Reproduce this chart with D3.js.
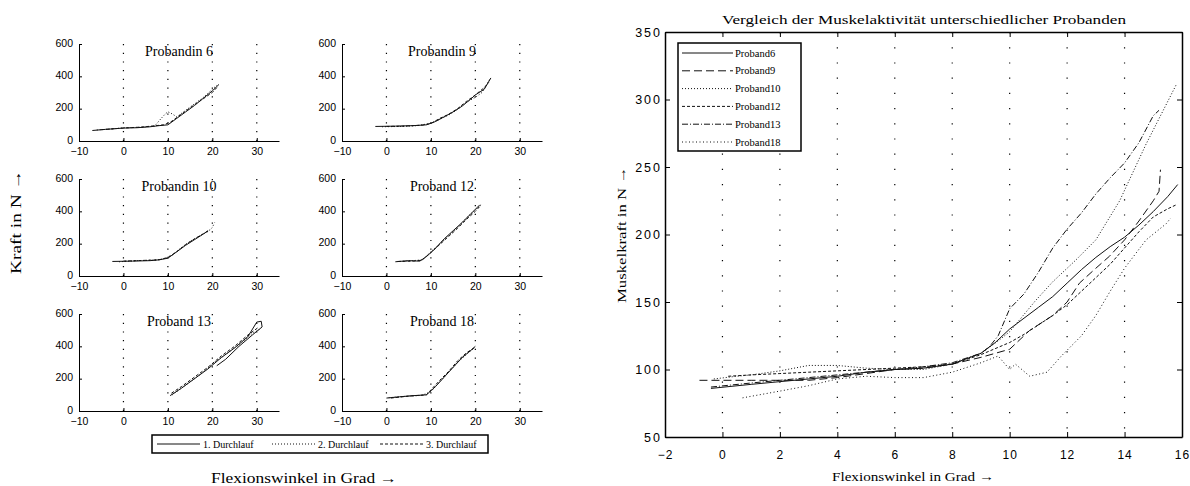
<!DOCTYPE html>
<html>
<head>
<meta charset="utf-8">
<script src="https://cdn.jsdelivr.net/npm/d3@7"></script>
<style>
  body { margin: 0; background: #fff; }
  text { font-family: "Liberation Serif", serif; fill: #000; }
  .tick text { font-family: "Liberation Sans", sans-serif; }
</style>
</head>
<body>
<svg id="chart" width="1190" height="486"></svg>
<script>
// ---- data: small subplots (angle in deg, force in N), 3 runs each
const subTitles = ["Probandin 6", "Probandin 9", "Probandin 10", "Proband 12", "Proband 13", "Proband 18"];
const runLabels = ["1. Durchlauf", "2. Durchlauf", "3. Durchlauf"];
const subXTicks = [-10, 0, 10, 20, 30];
const subYTicks = [0, 200, 400, 600];

const p6Runs = [
  [[-7,65],[-4,72],[0,80],[3,82],[6,88],[8,95],[10,100],[12,140],[14,180],[16,220],[18,265],[20,310],[21.5,350]],
  [[-6,68],[-2,76],[0,82],[4,85],[7,92],[8.5,140],[9.5,170],[10,180],[10.5,175],[12,150],[14,190],[16,230],[18,270],[20,320],[21,345]],
  [[-5,70],[0,80],[4,86],[7,94],[9,100],[10.5,115],[12,145],[14,185],[16,225],[18,262],[20,300],[21,330]]
];
const p9Runs = [
  [[-2.5,90],[2,92],[6,95],[9,100],[11,120],[13,150],[15,180],[17,215],[19,260],[20,285],[22,320],[23.5,390]],
  [[-1,88],[3,90],[7,95],[10,110],[12,135],[14,160],[16,195],[18,240],[20,270],[21.5,300],[23,370],[23.3,385]],
  [[0,90],[4,92],[8,98],[10,108],[12,140],[14,165],[16,200],[18,245],[20,285],[22,330],[23,360]]
];
const p10Runs = [
  [[-2.5,90],[2,92],[6,95],[8,100],[10,110],[12,150],[14,190],[16,225],[18,260],[19,280]],
  [[-1,88],[3,95],[7,98],[9,105],[11,130],[13,175],[15,215],[17,245],[19,275],[20,300],[20.5,330]],
  [[0,92],[4,96],[8,100],[10,115],[12,150],[14,195],[16,230],[18,262],[19.5,285]]
];
const p12Runs = [
  [[2,88],[5,95],[7.5,92],[9,120],[11,170],[13,230],[15,280],[17,330],[19,385],[21,440]],
  [[3,90],[6,95],[8,100],[10,150],[12,200],[14,250],[16,300],[18,360],[20,410],[21.5,445]],
  [[2.5,90],[6,92],[8,98],[10,145],[12,195],[14,245],[16,295],[18,350],[20,400],[21,430]]
];
const p13Runs = [
  [[10.5,95],[13,140],[16,200],[19,260],[22,330],[25,390],[28,460],[30,550],[31,555],[31.2,520],[29,470],[26,400],[23,320],[21,280]],
  [[11,100],[14,160],[17,220],[20,290],[23,350],[26,410],[29,480],[31,510]],
  [[10.8,110],[13,150],[16,210],[19,270],[22,340],[25,400],[28,470],[30.5,520]]
];
const p18Runs = [
  [[0,80],[3,88],[6,95],[9,100],[11,150],[13,210],[15,270],[17,330],[19,375],[20,400]],
  [[0.5,82],[4,90],[8,97],[10,120],[12,180],[14,240],[16,300],[18,350],[19.5,385]],
  [[1,80],[5,92],[9,100],[10,130],[12,190],[14,245],[16,310],[18,360],[20,395]]
];
const subRuns = [p6Runs, p9Runs, p10Runs, p12Runs, p13Runs, p18Runs];

// ---- data: comparison chart
const cmpNames = ["Proband6", "Proband9", "Proband10", "Proband12", "Proband13", "Proband18"];
const proband6 = [[-0.4,86],[1,89],[2,91],[3,93],[4,95],[5,98],[6,100],[7,101],[8,104],[9,112],[9.5,120],[10,130],[10.5,138],[11,146],[11.5,154],[12,164],[12.5,174],[13,183],[13.5,191],[14,198],[14.5,207],[15,217],[15.5,228],[15.85,237]];
const proband9 = [[-0.8,92],[0,92],[1,92],[2,92],[3,92],[4,94],[5,97],[6,100],[7,101],[8,104],[9,109],[10,115],[10.7,129],[11.5,140],[12,150],[12.43,164],[13,175],[13.48,184],[14,196],[14.5,210],[15,225],[15.2,232],[15.25,248]];
const proband10 = [[-0.3,93],[0.5,95],[1,96],[2,99],[3,103],[4,103],[5,101],[6,100],[7,100],[8,104],[9,112],[9.65,122],[10,128],[10.9,151],[11.5,165],[12.3,181],[13,196],[13.83,225],[14.75,267],[15.3,290],[15.8,311]];
const proband12 = [[0.2,95],[1,96],[2,97],[3,98],[4,99],[5,100],[6,101],[7,102],[8,104],[9,111],[10,120],[10.5,126],[11,133],[11.5,140],[12,148],[12.5,158],[13,168],[13.5,178],[14,190],[14.5,202],[15,213],[15.5,219],[15.8,222]];
const proband13 = [[-0.4,87],[1,90],[2,92],[3,94],[4,96],[5,98],[6,100],[7,102],[8,105],[9,112],[9.3,117],[9.6,125],[10,145],[10.5,156],[11,172],[11.5,190],[12,204],[12.5,216],[13,230],[13.5,242],[14,253],[14.5,268],[15,288],[15.2,292]];
const proband18 = [[0.7,79],[2,84],[3,88],[4,93],[5,95],[6,94],[7,94],[8,98],[9,105],[9.6,110],[10,100],[10.2,104],[10.7,95],[11.3,98],[11.8,110],[12.5,125],[13,140],[13.5,158],[14,175],[14.75,196],[15.45,208],[15.6,212]];
const cmpSeries = [proband6, proband9, proband10, proband12, proband13, proband18];
const cmpXTicks = [-2, 0, 2, 4, 6, 8, 10, 12, 14, 16];
const cmpYTicks = [50, 100, 150, 200, 250, 300, 350];

// line styles
const runDash = [null, "1,2", "3,2"];
const cmpDash = [null, "8,4", "1,2", "3,2", "6,2,1,2", "1,2.5"];

const svg = d3.select("#chart");

// ---- small multiples
const subW = 200, subH = 97;
const colLeft = [79, 342];
const rowTop = [44, 179, 314];

subTitles.forEach((title, i) => {
  const left = colLeft[i % 2], top = rowTop[Math.floor(i / 2)];
  const x = d3.scaleLinear().domain([-10, 35]).range([left, left + subW]);
  const y = d3.scaleLinear().domain([0, 600]).range([top + subH, top]);
  const g = svg.append("g");

  // dotted vertical grid
  g.selectAll(".grid").data([0, 10, 20, 30]).enter().append("line")
    .attr("x1", d => x(d)).attr("x2", d => x(d))
    .attr("y1", top).attr("y2", top + subH)
    .attr("stroke", "#000").attr("stroke-width", 1.2)
    .attr("stroke-dasharray", "1.2,7.5");

  g.append("g")
    .attr("transform", `translate(0,${top + subH})`)
    .call(d3.axisBottom(x).tickValues(subXTicks).tickSize(-3).tickSizeOuter(0).tickPadding(7))
    .call(a => a.selectAll("text").attr("font-size", 10.5));
  g.append("g")
    .attr("transform", `translate(${left},0)`)
    .call(d3.axisLeft(y).tickValues(subYTicks).tickSize(-3).tickSizeOuter(0).tickPadding(6))
    .call(a => a.selectAll("text").attr("font-size", 10.5).attr("dy", "0.2em"));

  const line = d3.line().x(d => x(d[0])).y(d => y(d[1]));
  subRuns[i].forEach((run, r) => {
    g.append("path")
      .datum(run)
      .attr("d", line)
      .attr("fill", "none")
      .attr("stroke", "#111")
      .attr("stroke-width", 1)
      .attr("stroke-dasharray", runDash[r]);
  });

  g.append("text")
    .attr("x", left + subW / 2)
    .attr("y", top + 12)
    .attr("text-anchor", "middle")
    .attr("font-size", 14)
    .text(title);
});

// legend for the runs
const legL = svg.append("g");
legL.append("rect")
  .attr("x", 152).attr("y", 435).attr("width", 336).attr("height", 18)
  .attr("fill", "#fff").attr("stroke", "#000").attr("stroke-width", 1.5);
const runLegX = [157, 272, 380];
runLabels.forEach((lab, r) => {
  legL.append("line")
    .attr("x1", runLegX[r]).attr("x2", runLegX[r] + 43)
    .attr("y1", 444).attr("y2", 444)
    .attr("stroke", "#111").attr("stroke-width", 1)
    .attr("stroke-dasharray", runDash[r]);
  legL.append("text")
    .attr("x", runLegX[r] + 46).attr("y", 447.5)
    .attr("font-size", 10)
    .text(lab);
});

svg.append("text")
  .attr("x", 304).attr("y", 483)
  .attr("text-anchor", "middle")
  .attr("font-size", 14)
  .attr("textLength", 186)
  .attr("lengthAdjust", "spacingAndGlyphs")
  .text("Flexionswinkel in Grad \u2192");

svg.append("text")
  .attr("transform", "translate(21,222) rotate(-90)")
  .attr("text-anchor", "middle")
  .attr("font-size", 14)
  .attr("textLength", 104)
  .attr("lengthAdjust", "spacingAndGlyphs")
  .text("Kraft in N \u2192");

// ---- comparison chart
const cL = 665, cR = 1182, cT = 32, cB = 437;
const cx = d3.scaleLinear().domain([-2, 16]).range([cL, cR]);
const cy = d3.scaleLinear().domain([50, 350]).range([cB, cT]);
const cg = svg.append("g");

cg.selectAll(".cgrid").data(cmpXTicks.filter(d => d > -2 && d < 16)).enter().append("line")
  .attr("x1", d => cx(d)).attr("x2", d => cx(d))
  .attr("y1", cT).attr("y2", cB)
  .attr("stroke", "#000").attr("stroke-width", 1.2)
  .attr("stroke-dasharray", "1.2,14");

cg.append("g")
  .attr("transform", `translate(0,${cB})`)
  .call(d3.axisBottom(cx).tickValues(cmpXTicks).tickSize(-5).tickSizeOuter(0).tickPadding(13))
  .call(a => a.selectAll("text").attr("font-size", 12).attr("letter-spacing", 1));
cg.append("g")
  .attr("transform", `translate(0,${cT})`)
  .call(d3.axisTop(cx).tickValues(cmpXTicks).tickSize(-5).tickSizeOuter(0).tickFormat(""));
cg.append("g")
  .attr("transform", `translate(${cL},0)`)
  .call(d3.axisLeft(cy).tickValues(cmpYTicks).tickSize(-5).tickSizeOuter(0).tickPadding(3))
  .call(a => a.selectAll("text").attr("font-size", 12.5).attr("letter-spacing", 2));
cg.append("g")
  .attr("transform", `translate(${cR},0)`)
  .call(d3.axisRight(cy).tickValues(cmpYTicks).tickSize(-5).tickSizeOuter(0).tickFormat(""));
cg.selectAll(".domain").attr("stroke-width", 1.5);

const cline = d3.line().x(d => cx(d[0])).y(d => cy(d[1]));
cmpSeries.forEach((s, i) => {
  cg.append("path")
    .datum(s)
    .attr("d", cline)
    .attr("fill", "none")
    .attr("stroke", "#111")
    .attr("stroke-width", 1)
    .attr("stroke-dasharray", cmpDash[i]);
});

// legend
const lg = svg.append("g");
lg.append("rect")
  .attr("x", 678).attr("y", 43).attr("width", 123).attr("height", 108)
  .attr("fill", "#fff").attr("stroke", "#000").attr("stroke-width", 1.5);
cmpNames.forEach((n, i) => {
  const yy = 53 + i * 17.8;
  lg.append("line")
    .attr("x1", 682).attr("x2", 733)
    .attr("y1", yy).attr("y2", yy)
    .attr("stroke", "#111").attr("stroke-width", 1)
    .attr("stroke-dasharray", cmpDash[i]);
  lg.append("text")
    .attr("x", 735).attr("y", yy + 3.5)
    .attr("font-size", 10.5)
    .text(n);
});

svg.append("text")
  .attr("x", 924).attr("y", 24)
  .attr("text-anchor", "middle")
  .attr("font-size", 13)
  .attr("textLength", 404)
  .attr("lengthAdjust", "spacingAndGlyphs")
  .text("Vergleich der Muskelaktivit\u00e4t unterschiedlicher Probanden");

svg.append("text")
  .attr("x", 913).attr("y", 481)
  .attr("text-anchor", "middle")
  .attr("font-size", 13)
  .attr("textLength", 162)
  .attr("lengthAdjust", "spacingAndGlyphs")
  .text("Flexionswinkel in Grad \u2192");

svg.append("text")
  .attr("transform", "translate(626,235) rotate(-90)")
  .attr("text-anchor", "middle")
  .attr("font-size", 13)
  .attr("textLength", 136)
  .attr("lengthAdjust", "spacingAndGlyphs")
  .text("Muskelkraft in N \u2192");
</script>
</body>
</html>
